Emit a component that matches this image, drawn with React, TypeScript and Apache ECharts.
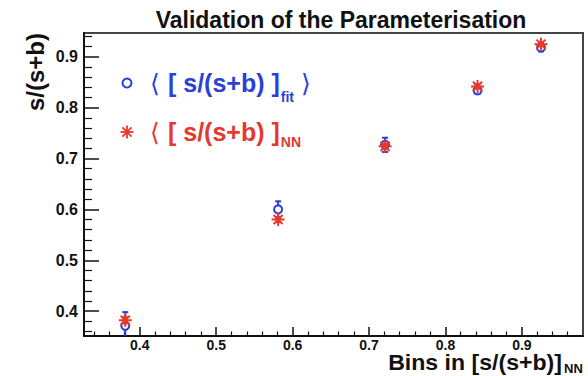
import React, { useEffect, useRef } from "react";
import * as echarts from "echarts";

// ---- data ----
const binCenters = [0.381, 0.581, 0.721, 0.842, 0.925];
const fitValues = [0.371, 0.6, 0.727, 0.834, 0.918];
const fitErrors = [0.027, 0.016, 0.014, 0.007, 0.007];
const nnValues = [0.382, 0.58, 0.724, 0.842, 0.925];
const nnErrors = [0.006, 0.005, 0.005, 0.004, 0.004];

const xTicks = [0.4, 0.5, 0.6, 0.7, 0.8, 0.9];
const yTicks = [0.4, 0.5, 0.6, 0.7, 0.8, 0.9];
const xMinorTicks = [
  0.34, 0.36, 0.38, 0.42, 0.44, 0.46, 0.48, 0.52, 0.54, 0.56, 0.58, 0.62, 0.64,
  0.66, 0.68, 0.72, 0.74, 0.76, 0.78, 0.82, 0.84, 0.86, 0.88, 0.92, 0.94, 0.96,
];
const yMinorTicks = [
  0.36, 0.38, 0.42, 0.44, 0.46, 0.48, 0.52, 0.54, 0.56, 0.58, 0.62, 0.64, 0.66,
  0.68, 0.72, 0.74, 0.76, 0.78, 0.82, 0.84, 0.86, 0.88, 0.92, 0.94,
];

const X_MIN = 0.327;
const X_MAX = 0.98;
const Y_MIN = 0.351;
const Y_MAX = 0.947;

const TITLE = "Validation of the Parameterisation";
const Y_TITLE = "s/(s+b)";
const X_TITLE = "Bins in [s/(s+b)]";
const X_TITLE_SUB = "NN";
const LEGEND_OPEN = "\u27E8";
const LEGEND_MAIN = "[ s/(s+b) ]";
const LEGEND_FIT_SUB = "fit";
const LEGEND_NN_SUB = "NN";
const LEGEND_CLOSE = "\u27E9";

const BLUE = "#2b3fd9";
const RED = "#e5392e";
const FONT = "'Liberation Sans', Arial, Helvetica, sans-serif";

function measure(text: string, size: number, weight = "bold") {
  const c = document.createElement("canvas");
  const ctx = c.getContext("2d");
  if (!ctx) return text.length * size * 0.55;
  ctx.font = `${weight} ${size}px ${FONT}`;
  return ctx.measureText(text).width;
}

function errorBarRenderer(color: string) {
  return (params: any, api: any) => {
    const x = api.value(0);
    const lo = api.value(1);
    const hi = api.value(2);
    const pLo = api.coord([x, lo]);
    const pHi = api.coord([x, hi]);
    const cap = 3;
    const style = { stroke: color, lineWidth: 2 };
    return {
      type: "group",
      children: [
        { type: "line", shape: { x1: pLo[0], y1: pLo[1], x2: pHi[0], y2: pHi[1] }, style },
        { type: "line", shape: { x1: pHi[0] - cap, y1: pHi[1], x2: pHi[0] + cap, y2: pHi[1] }, style },
        { type: "line", shape: { x1: pLo[0] - cap, y1: pLo[1], x2: pLo[0] + cap, y2: pLo[1] }, style },
      ],
    };
  };
}

const STAR_PATH = "path://M0,-10L0,10M-10,0L10,0M-7,-7L7,7M-7,7L7,-7";

export default function App() {
  const ref = useRef<HTMLDivElement>(null);

  useEffect(() => {
    if (!ref.current) return;
    const chart = echarts.init(ref.current, undefined, { renderer: "svg" });

    const labelStyle = {
      fontWeight: "bold" as const,
      fontFamily: FONT,
      color: "#111",
    };

    const legMainSize = 25;
    const legSubSize = 14;
    const legX = 150;
    const openW = measure(LEGEND_OPEN, legMainSize, "normal");
    const mainX = legX + openW + 8;
    const mainW = measure(LEGEND_MAIN, legMainSize);
    const fitW = measure(LEGEND_FIT_SUB, legSubSize);

    const xTitleSize = 22;
    const xTitleRight = 562;

    const textEl = (text: string, x: number, y: number, size: number, color: string, align = "left", weight = "bold") => ({
      type: "text",
      x,
      y,
      style: {
        text,
        fontSize: size,
        fontWeight: weight,
        fontFamily: FONT,
        fill: color,
        align,
        verticalAlign: "middle",
      },
    });

    const starLines = (cx: number, cy: number, r: number, color: string) => {
      const d = r * 0.7;
      const st = { stroke: color, lineWidth: 1.8 };
      return {
        type: "group",
        children: [
          { type: "line", shape: { x1: cx, y1: cy - r, x2: cx, y2: cy + r }, style: st },
          { type: "line", shape: { x1: cx - r, y1: cy, x2: cx + r, y2: cy }, style: st },
          { type: "line", shape: { x1: cx - d, y1: cy - d, x2: cx + d, y2: cy + d }, style: st },
          { type: "line", shape: { x1: cx - d, y1: cy + d, x2: cx + d, y2: cy - d }, style: st },
        ],
      };
    };

    const option: any = {
      animation: false,
      backgroundColor: "#ffffff",
      grid: {
        left: 84,
        top: 33,
        width: 499,
        height: 303,
        show: true,
        borderColor: "#444",
        borderWidth: 2,
        backgroundColor: "transparent",
      },
      xAxis: [
        {
          type: "value",
          min: X_MIN,
          max: X_MAX,
          position: "bottom",
          axisLine: { show: true, onZero: false, lineStyle: { color: "#111", width: 2 } },
          axisTick: { show: true, inside: true, length: 9, customValues: xTicks, lineStyle: { color: "#111", width: 1.5 } },
          axisLabel: { ...labelStyle, fontSize: 14, margin: 2, customValues: xTicks, formatter: (v: number) => v.toFixed(1) },
          splitLine: { show: false },
        },
        {
          type: "value",
          min: X_MIN,
          max: X_MAX,
          position: "bottom",
          axisLine: { show: false, onZero: false },
          axisTick: { show: true, inside: true, length: 4.5, customValues: xMinorTicks, lineStyle: { color: "#111", width: 1.2 } },
          axisLabel: { show: false },
          splitLine: { show: false },
        },
      ],
      yAxis: [
        {
          type: "value",
          min: Y_MIN,
          max: Y_MAX,
          position: "left",
          axisLine: { show: true, onZero: false, lineStyle: { color: "#111", width: 2 } },
          axisTick: { show: true, inside: true, length: 15, customValues: yTicks, lineStyle: { color: "#111", width: 1.5 } },
          axisLabel: { ...labelStyle, fontSize: 16, margin: 6, customValues: yTicks, formatter: (v: number) => v.toFixed(1) },
          splitLine: { show: false },
        },
        {
          type: "value",
          min: Y_MIN,
          max: Y_MAX,
          position: "left",
          axisLine: { show: false, onZero: false },
          axisTick: { show: true, inside: true, length: 8, customValues: yMinorTicks, lineStyle: { color: "#111", width: 1.2 } },
          axisLabel: { show: false },
          splitLine: { show: false },
        },
      ],
      series: [
        {
          type: "custom",
          name: "fitErr",
          xAxisIndex: 0,
          yAxisIndex: 0,
          clip: true,
          renderItem: errorBarRenderer(BLUE),
          encode: { x: 0, y: [1, 2] },
          data: binCenters.map((x, i) => [x, fitValues[i] - fitErrors[i], fitValues[i] + fitErrors[i]]),
          z: 2,
        },
        {
          type: "scatter",
          name: "fit",
          xAxisIndex: 0,
          yAxisIndex: 0,
          symbol: "circle",
          symbolSize: 8,
          itemStyle: { color: "#ffffff", borderColor: BLUE, borderWidth: 2, opacity: 1 },
          data: binCenters.map((x, i) => [x, fitValues[i]]),
          z: 3,
        },
        {
          type: "custom",
          name: "nnErr",
          xAxisIndex: 0,
          yAxisIndex: 0,
          clip: true,
          renderItem: errorBarRenderer(RED),
          encode: { x: 0, y: [1, 2] },
          data: binCenters.map((x, i) => [x, nnValues[i] - nnErrors[i], nnValues[i] + nnErrors[i]]),
          z: 4,
        },
        {
          type: "scatter",
          name: "nn",
          xAxisIndex: 0,
          yAxisIndex: 0,
          symbol: STAR_PATH,
          symbolSize: 13,
          itemStyle: { color: RED, borderColor: RED, borderWidth: 2, opacity: 1 },
          data: binCenters.map((x, i) => [x, nnValues[i]]),
          z: 5,
        },
      ],
      graphic: [
        textEl(TITLE, 341, 20, 23, "#111", "center"),
        {
          type: "text",
          x: 35,
          y: 72,
          rotation: Math.PI / 2,
          style: {
            text: Y_TITLE,
            fontSize: 24,
            fontWeight: "bold",
            fontFamily: FONT,
            fill: "#111",
            align: "center",
            verticalAlign: "middle",
          },
        },
        { ...textEl(X_TITLE, xTitleRight, 363, xTitleSize, "#111", "right"), scaleX: 1.05 },
        textEl(X_TITLE_SUB, xTitleRight + 2, 368, 13, "#111", "left"),
        // legend
        {
          type: "circle",
          shape: { cx: 127, cy: 83, r: 4.5 },
          style: { fill: "none", stroke: BLUE, lineWidth: 2 },
        },
        textEl(LEGEND_OPEN, legX, 83, legMainSize, BLUE, "left", "normal"),
        textEl(LEGEND_MAIN, mainX, 83, legMainSize, BLUE),
        textEl(LEGEND_FIT_SUB, mainX + mainW + 1, 97, legSubSize, BLUE),
        textEl(LEGEND_CLOSE, mainX + mainW + fitW + 8, 83, legMainSize, BLUE, "left", "normal"),
        starLines(127, 132, 6.5, RED),
        textEl(LEGEND_OPEN, legX, 132, legMainSize, RED, "left", "normal"),
        textEl(LEGEND_MAIN, mainX, 132, legMainSize, RED),
        textEl(LEGEND_NN_SUB, mainX + mainW + 1, 142, legSubSize, RED),
      ],
    };

    chart.setOption(option);
    return () => chart.dispose();
  }, []);

  return (
    <div
      ref={ref}
      style={{ position: "fixed", left: 0, top: 0, width: 588, height: 376, background: "#fff" }}
    />
  );
}
